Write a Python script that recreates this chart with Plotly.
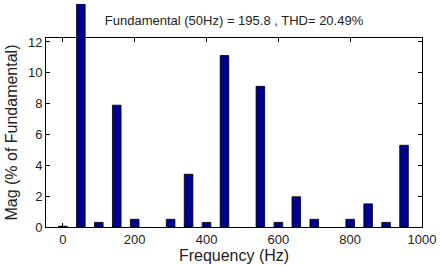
import plotly.graph_objects as go

freqs = [0, 50, 100, 150, 200, 250, 300, 350, 400, 450, 500, 550, 600, 650, 700, 750, 800, 850, 900, 950]
mags = [0.05, 100, 0.3, 7.9, 0.5, 0, 0.5, 3.42, 0.3, 11.12, 0, 9.12, 0.3, 1.96, 0.5, 0, 0.5, 1.5, 0.3, 5.3]
x_ticks = [0, 200, 400, 600, 800, 1000]
y_ticks = [0, 2, 4, 6, 8, 10, 12]
title_text = "Fundamental (50Hz) = 195.8 , THD= 20.49%"

W, H = 440, 266
m_l, m_r, m_t, m_b = 46, 18, 0, 39
plot_h = H - m_t - m_b
top_px = 34.7
dom_top = (plot_h - top_px) / plot_h
y_max = 12.25
y2_max = y_max / dom_top

font_family = "Arial, Liberation Sans, sans-serif"
txt_color = "#222222"
fs = 13

# zero-magnitude harmonics are not drawn
bx = [f for f, m in zip(freqs, mags) if m > 0]
by = [m for m in mags if m > 0]

fig = go.Figure()
fig.add_trace(go.Bar(x=bx, y=by, width=24, marker=dict(color="#00008F", line=dict(color="black", width=0.8)),
                     yaxis="y2", showlegend=False))

fig.update_layout(
    width=W, height=H,
    margin=dict(l=m_l, r=m_r, t=m_t, b=m_b),
    paper_bgcolor="white", plot_bgcolor="rgba(0,0,0,0)",
    font=dict(family=font_family, size=fs, color=txt_color),
    showlegend=False,
    xaxis=dict(range=[-47, 1000], tickvals=x_ticks, ticks="inside", ticklen=4, tickcolor="black",
               showline=True, linecolor="black", linewidth=1, mirror="ticks", showgrid=False, zeroline=False,
               anchor="y", title=dict(text="Frequency (Hz)", standoff=3),
               tickfont=dict(size=fs, color=txt_color)),
    yaxis=dict(domain=[0, dom_top], range=[0, y_max], tickvals=y_ticks, ticks="inside", ticklen=4,
               tickcolor="black", showline=True, linecolor="black", linewidth=1, mirror="ticks",
               showgrid=False, zeroline=False, title=dict(text="Mag (% of Fundamental)", standoff=6),
               tickfont=dict(size=fs, color=txt_color)),
    yaxis2=dict(domain=[0, 1], range=[0, y2_max], visible=False, anchor="x", showgrid=False, zeroline=False),
    title=dict(text=title_text, x=(m_l + (W - m_l - m_r) / 2) / W, xanchor="center", y=1 - 20 / H,
               yanchor="middle", font=dict(size=fs, color=txt_color)),
)
fig.add_trace(go.Scatter(x=[None], y=[None], yaxis="y", xaxis="x", showlegend=False))

fig.write_html("out.html")
